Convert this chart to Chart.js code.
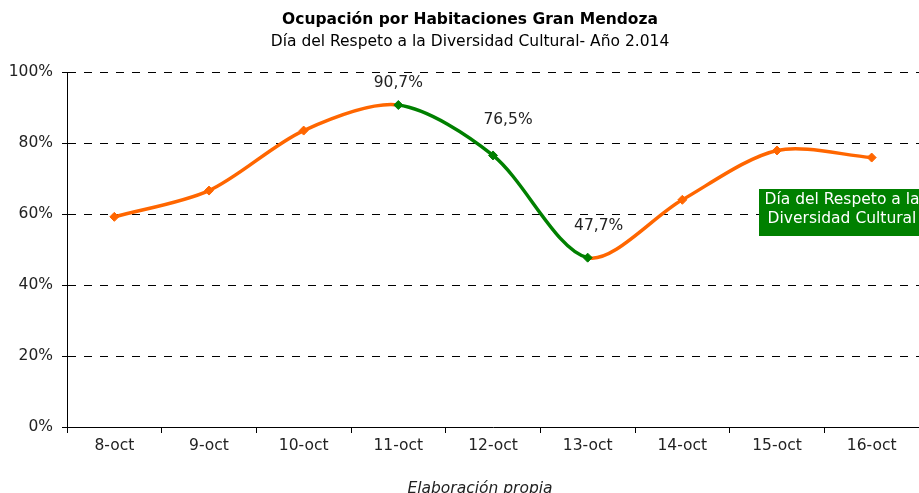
<!DOCTYPE html>
<html>
<head>
<meta charset="utf-8">
<script src="https://cdn.jsdelivr.net/npm/chart.js@4/dist/chart.umd.min.js"></script>
<style>
html,body{margin:0;padding:0;background:#fff;}
#wrap{width:919px;height:493px;position:relative;}
</style>
</head>
<body>
<div id="wrap"><canvas id="c" width="919" height="493"></canvas></div>
<script>
const categories = ['8-oct','9-oct','10-oct','11-oct','12-oct','13-oct','14-oct','15-oct','16-oct'];
const occupancy = [59.2, 66.6, 83.5, 90.7, 76.5, 47.7, 64.0, 77.9, 75.9];
const highlighted = [false, false, false, true, true, true, false, false, false];
const labelText = ['', '', '', '90,7%', '76,5%', '47,7%', '', '', ''];
const yTicks = [0, 20, 40, 60, 80, 100];
const titleText = 'Ocupación por Habitaciones Gran Mendoza';
const subtitleText = 'Día del Respeto a la Diversidad Cultural- Año 2.014';
const legendLines = ['Día del Respeto a la', 'Diversidad Cultural'];
const sourceText = 'Elaboración propia';

const ORANGE = '#FF6600';
const GREEN = '#008000';
const FONT = "'DejaVu Sans', Verdana, sans-serif";
const FS = 15.5;

const labelOffsets = {3: [0, -22], 4: [15, -35], 5: [11, -32]};

const extras = {
  id: 'extras',
  afterDatasetsDraw(chart) {
    const ctx = chart.ctx;
    const meta = chart.getDatasetMeta(0);
    ctx.save();
    ctx.textAlign = 'center';
    ctx.textBaseline = 'middle';
    // titles
    ctx.fillStyle = '#000';
    ctx.font = 'bold ' + FS + 'px ' + FONT;
    ctx.fillText(titleText, 470, 20);
    ctx.font = FS + 'px ' + FONT;
    ctx.fillText(subtitleText, 470, 42);
    // data labels
    ctx.fillStyle = '#222';
    meta.data.forEach((pt, i) => {
      if (!labelText[i]) return;
      const off = labelOffsets[i] || [0, -20];
      ctx.fillText(labelText[i], pt.x + off[0], pt.y + off[1]);
    });
    // legend box
    ctx.fillStyle = GREEN;
    ctx.fillRect(759, 189, 170, 47);
    ctx.fillStyle = '#ffffff';
    ctx.fillText(legendLines[0], 842, 200);
    ctx.fillText(legendLines[1], 842, 219);
    // source note
    ctx.fillStyle = '#222';
    ctx.font = 'italic ' + FS + 'px ' + FONT;
    ctx.fillText(sourceText, 480, 489);
    ctx.restore();
  }
};

new Chart(document.getElementById('c'), {
  type: 'line',
  data: {
    labels: categories,
    datasets: [{
      label: 'Ocupación',
      data: occupancy,
      borderWidth: 3.5,
      borderColor: ORANGE,
      tension: 0.3,
      pointStyle: 'rectRot',
      pointRadius: 4.5,
      pointHoverRadius: 4.5,
      pointBackgroundColor: highlighted.map(h => h ? GREEN : ORANGE),
      pointBorderColor: highlighted.map(h => h ? GREEN : ORANGE),
      pointBorderWidth: 1,
      segment: {
        borderColor: c => (highlighted[c.p0DataIndex] && highlighted[c.p1DataIndex]) ? GREEN : ORANGE
      },
      fill: false
    }]
  },
  options: {
    responsive: false,
    animation: false,
    events: [],
    layout: { autoPadding: false, padding: { left: 0, right: 0, top: 72, bottom: 0 } },
    plugins: {
      legend: { display: false },
      tooltip: { enabled: false },
      title: { display: false },
      subtitle: { display: false }
    },
    scales: {
      x: {
        offset: true,
        grid: { display: true, drawOnChartArea: false, drawTicks: true, tickLength: 6, color: '#000', offset: true },
        border: { display: true, color: '#000', width: 1 },
        ticks: { color: '#222', font: { family: FONT, size: FS }, padding: 4, maxRotation: 0 },
        afterFit: s => { s.height = 66; s.paddingLeft = 0; s.paddingRight = 0; }
      },
      y: {
        min: 0,
        max: 100,
        afterBuildTicks: s => { s.ticks = yTicks.map(v => ({ value: v })); },
        grid: { color: '#000', lineWidth: 1, drawTicks: true, tickLength: 5, tickColor: '#000', tickBorderDash: [] },
        border: { display: true, color: '#000', width: 1, dash: [8, 8], dashOffset: 0 },
        ticks: { color: '#222', font: { family: FONT, size: FS }, padding: 9, callback: v => v + '%' },
        afterFit: s => { s.width = 67; s.paddingTop = 0; s.paddingBottom = 0; }
      }
    }
  },
  plugins: [extras]
});
</script>
</body>
</html>
